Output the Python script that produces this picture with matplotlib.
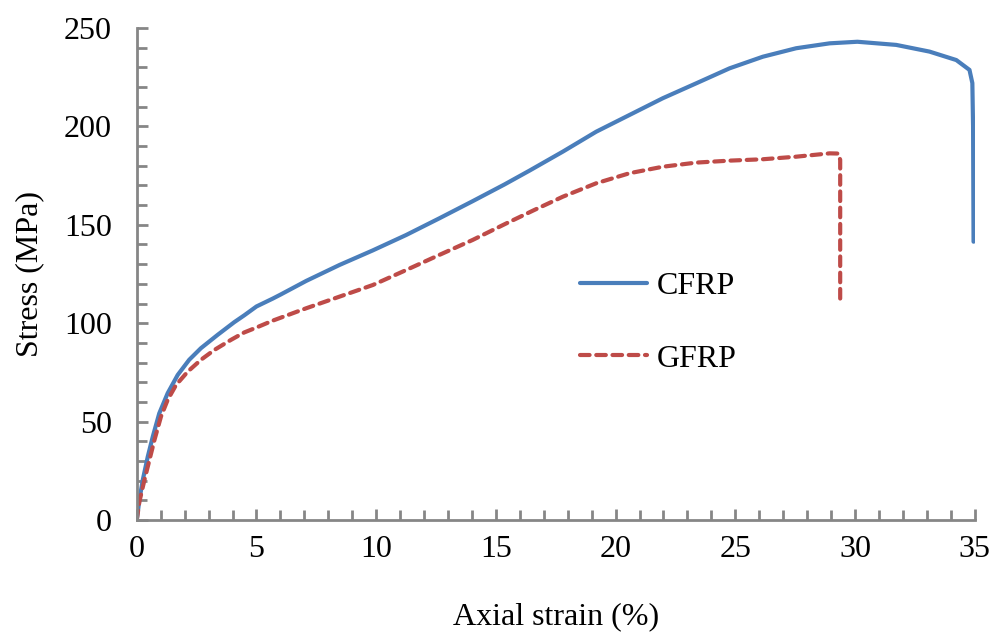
import matplotlib
matplotlib.use("Agg")
import matplotlib.pyplot as plt
from matplotlib.ticker import MultipleLocator

# CFRP data (strain %, stress MPa)
cfrp_strain = [0, 0.11, 0.25, 0.46, 0.67, 0.94, 1.29, 1.71, 2.19, 2.68, 3.38, 4.07, 4.49, 5.0,
               5.68, 6.0, 7.08, 8.47, 9.86, 11.25, 12.64, 14.03, 15.36, 16.4, 17.8, 19.19, 20.58,
               21.97, 23.37, 24.76, 26.15, 27.54, 28.94, 30.1, 31.72, 33.11, 34.23, 34.78, 34.9,
               34.93, 34.95]
cfrp_stress = [0, 10.2, 20.3, 32.2, 42.4, 54.2, 64.4, 73.7, 81.4, 87.3, 94.1, 100.5, 104, 108.5,
               112.5, 114.5, 121.5, 129.6, 137, 144.8, 153.3, 162, 170.5, 177.5, 187.2, 197.3, 205.8,
               214.3, 221.9, 229.5, 235.4, 239.7, 242.2, 243, 241.4, 238, 233.7, 228.7, 222,
               200, 141.4]

# GFRP data
gfrp_strain = [0, 0.11, 0.32, 0.53, 0.74, 1.01, 1.29, 1.64, 2.13, 2.68, 3.24, 3.93, 4.49, 5.0,
               5.68, 7.08, 8.47, 9.86, 11.25, 12.64, 14.03, 15.4, 16.6, 17.8, 19.19, 20.58,
               21.97, 23.37, 24.76, 26.15, 27.54, 28.94, 29.3, 29.38, 29.38]
gfrp_stress = [0, 9.3, 20.3, 30.5, 40.7, 52.5, 61, 68.6, 75.4, 81.4, 86.4, 91.5, 95.3, 97.8,
               101.3, 107.6, 113.5, 119.4, 127, 134.7, 142.3, 150.5, 157.5, 164.3, 171.1, 176.2,
               179.5, 181.6, 182.6, 183.3, 184.6, 186.3, 186.2, 183, 109.2]

x_ticks = [0, 5, 10, 15, 20, 25, 30, 35]
y_ticks = [0, 50, 100, 150, 200, 250]

plt.rcParams['font.family'] = ['Liberation Serif', 'DejaVu Serif']

fig = plt.figure(figsize=(9.91, 6.33), dpi=100)
ax = fig.add_axes([0.138, 0.1785, 0.8456, 0.7773])

ax.plot(cfrp_strain, cfrp_stress, color='#4A7EBB', lw=3, label='CFRP',
        solid_capstyle='round', solid_joinstyle='round')
ax.plot(gfrp_strain, gfrp_stress, color='#BE4B48', lw=3, label='GFRP',
        dashes=(2.3, 1.6), dash_capstyle='round', dash_joinstyle='round')

ax.set_xlim(0, 35)
ax.set_ylim(0, 250)
ax.set_xticks(x_ticks)
ax.set_yticks(y_ticks)
ax.xaxis.set_minor_locator(MultipleLocator(1))
ax.yaxis.set_minor_locator(MultipleLocator(10))

for s in ['top', 'right']:
    ax.spines[s].set_visible(False)
for s in ['left', 'bottom']:
    ax.spines[s].set_color('#868686')
    ax.spines[s].set_linewidth(2)

ax.tick_params(which='both', direction='in', color='#868686', width=2, labelsize=23)
ax.tick_params(which='major', length=8)
ax.tick_params(which='minor', length=7)
ax.tick_params(axis='x', which='major', pad=11)
ax.tick_params(axis='y', which='major', pad=18)

ax.set_xlabel('Axial strain (%)', fontsize=23, labelpad=27)
ax.set_ylabel('Stress (MPa)', fontsize=23, labelpad=14)

ax.legend(loc='center left', bbox_to_anchor=(0.529, 0.401), frameon=False, fontsize=23,
          handlelength=2.1, handletextpad=0.3, labelspacing=1.35, borderpad=0, borderaxespad=0)

fig.savefig('out.png', dpi=100)
